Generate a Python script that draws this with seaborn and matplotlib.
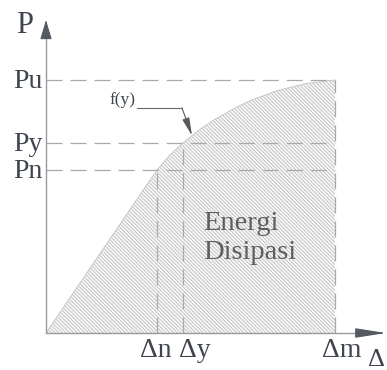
import numpy as np
import matplotlib
matplotlib.use("Agg")
import matplotlib.pyplot as plt
import seaborn as sns

# Load-displacement curve (P vs displacement), arbitrary units
curve_x = [0.0, 3.50, 3.84, 4.30, 4.74, 5.30, 5.85, 6.50, 7.06, 8.00, 9.00, 10.0]
curve_y = [0.0, 5.88, 6.44, 7.05, 7.51, 8.03, 8.45, 8.87, 9.18, 9.58, 9.86, 10.0]

# Characteristic displacements and loads
disp_labels = ["\u0394n", "\u0394y", "\u0394m"]
disp_vals = [3.84, 4.74, 10.0]
load_labels = ["Pu", "Py", "Pn"]
load_vals = [10.0, 7.51, 6.44]

sns.set_theme(style="white")
plt.rcParams["font.family"] = ["Liberation Serif", "DejaVu Serif"]
plt.rcParams["hatch.linewidth"] = 0.6

# scale of the drawing (pixels per unit) and position of the origin
SX, SY = 28.9, 25.3
OX, OY = 46, 333
W, H = 387, 370

fig = plt.figure(figsize=(W / 100, H / 100), dpi=100)
ax = fig.add_axes([0, 0, 1, 1])
ax.set_xlim(-OX / SX, (W - OX) / SX)
ax.set_ylim(-(H - OY) / SY, OY / SY)
ax.axis("off")

TXT = "#3f444e"
AX_C = "#9a9a9a"
DASH_C = "#a9a9a9"

# hatched area under the curve (dissipated energy)
ax.fill_between(curve_x, curve_y, 0, facecolor="#f8f8f8", edgecolor="#bcbcbc",
                hatch="\\" * 9, linewidth=0, zorder=1)
sns.lineplot(x=curve_x, y=curve_y, ax=ax, color="#c8c8c8", lw=0.7,
             sort=False, estimator=None, zorder=2)

# dashed guide lines
lw = 0.9
dash = (0, (11.5 / lw, 5.8 / lw))
for v in load_vals:
    ax.plot([0, disp_vals[-1]], [v, v], color=DASH_C, lw=lw, ls=dash, zorder=3)
for d, top in zip(disp_vals, [load_vals[2], load_vals[1], load_vals[0]]):
    ax.plot([d, d], [0, top], color=DASH_C, lw=lw, ls=dash, zorder=3)

# axes with arrow heads
x_end = (W - 1 - OX) / SX
y_end = (OY - 20) / SY
ax.plot([0, x_end - 0.5], [0, 0], color=AX_C, lw=1.0, zorder=4)
ax.plot([0, 0], [0, y_end - 0.3], color=AX_C, lw=1.0, zorder=4)
ax.annotate("", xy=(x_end, 0), xytext=(x_end - 0.85, 0),
            arrowprops=dict(arrowstyle="-|>,head_length=1.6,head_width=0.25",
                            color="#555a62", lw=0.8, shrinkA=0, shrinkB=0),
            zorder=5)
ax.annotate("", xy=(0, y_end), xytext=(0, y_end - 0.55),
            arrowprops=dict(arrowstyle="-|>,head_length=1.0,head_width=0.3",
                            color="#555a62", lw=0.8, shrinkA=0, shrinkB=0),
            zorder=5)

# axis names
FS = 20
ax.text(-21 / SX, (OY - 33) / SY, "P", fontsize=FS + 2, color=TXT,
        ha="center", va="baseline")
ax.text((368 - OX) / SX, (OY - 366) / SY, "\u0394", fontsize=FS - 1, color=TXT,
        ha="left", va="baseline", clip_on=False)

# load labels on the vertical axis
for lab, v in zip(load_labels, load_vals):
    ax.annotate(lab, xy=(0, v), xytext=(-3, -8), textcoords="offset pixels",
                fontsize=FS, color=TXT, ha="right", va="baseline")

# displacement labels below the horizontal axis
x_offsets = [-1, 12, 7]
for lab, d, dx in zip(disp_labels, disp_vals, x_offsets):
    ax.annotate(lab, xy=(d, 0), xytext=(dx, -24), textcoords="offset pixels",
                fontsize=FS, color=TXT, ha="center", va="baseline")

# f(y) leader pointing at the curve
tip_x = (192 - OX) / SX
tip_y = float(np.interp(tip_x, curve_x, curve_y))
knee = ((182 - OX) / SX, (OY - 108) / SY)
ax.plot([(137 - OX) / SX, knee[0]], [knee[1], knee[1]], color="#6a6a6a", lw=0.8, zorder=6)
ax.annotate("", xy=(tip_x, tip_y), xytext=knee,
            arrowprops=dict(arrowstyle="-|>,head_length=0.9,head_width=0.18",
                            color="#5a5a5a", lw=0.8, shrinkA=0, shrinkB=0),
            zorder=6)
ax.text((135 - OX) / SX, (OY - 104) / SY, "f(y)", fontsize=12.5, color=TXT,
        ha="right", va="baseline")

# area caption
ax.text((203 - OX) / SX, (OY - 230) / SY, "Energi", fontsize=20.5,
        color="#5e5e5e", ha="left", va="baseline", zorder=7)
ax.text((203 - OX) / SX, (OY - 259) / SY, "Disipasi", fontsize=20.5,
        color="#5e5e5e", ha="left", va="baseline", zorder=7)

fig.savefig("out.png", dpi=100)
